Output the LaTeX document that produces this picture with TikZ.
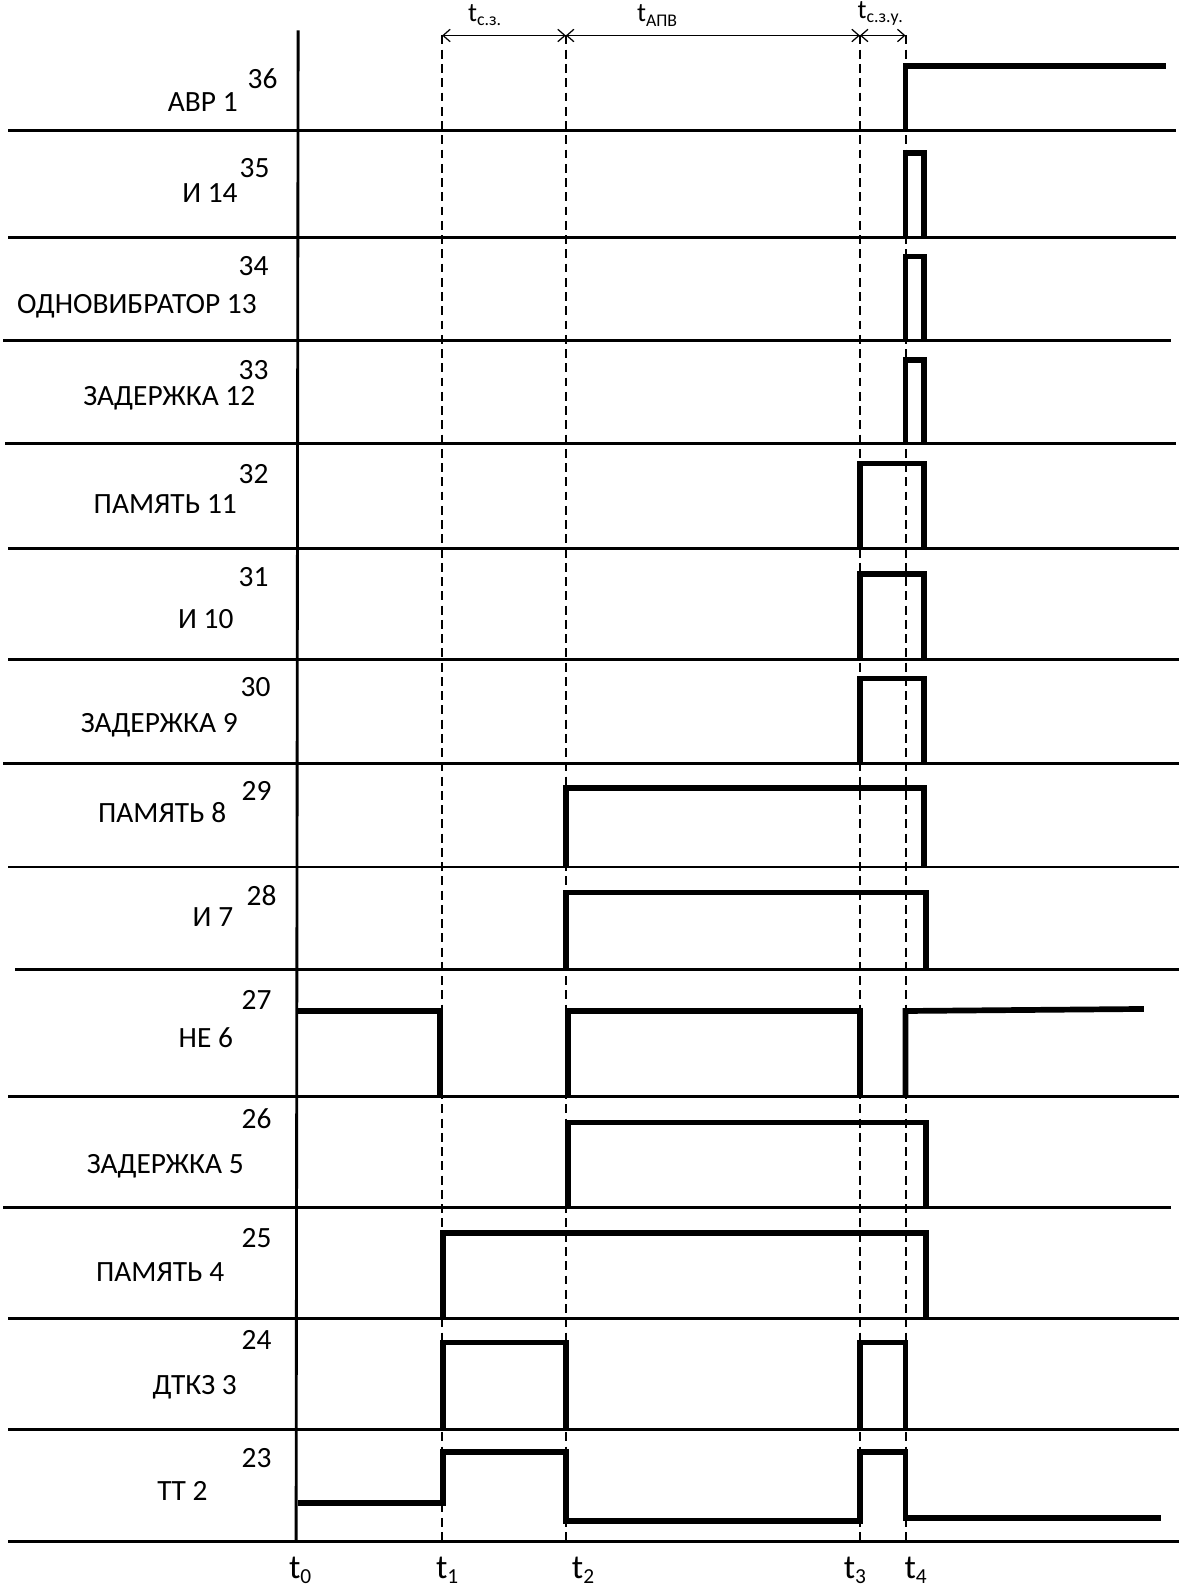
\documentclass[tikz,border=0pt]{standalone}
\usepackage{fontspec}
\setmainfont{Carlito}
\usetikzlibrary{arrows.meta}

\newcommand{\tsub}[2]{t\raisebox{-2.5pt}{\fontsize{#1}{#1}\selectfont #2}}

\begin{document}
\begin{tikzpicture}[x={(0.02cm,0)},y={(0,-0.02cm)},
  grid/.style={line width=1.6pt},
  sig/.style={line width=3.2pt,line join=miter},
  tmark/.style={line width=1.1pt,dash pattern=on 5pt off 3pt},
  dim/.style={{Straight Barb[length=4pt,width=7pt]}-{Straight Barb[length=4pt,width=7pt]},line width=0.7pt},
  lbl/.style={font=\fontsize{16.5}{18}\selectfont,inner sep=0pt,anchor=base},
  tlbl/.style={font=\fontsize{15}{17}\selectfont,inner sep=0pt,anchor=base}]
\useasboundingbox (0,0) rectangle (1163,1568);
% rows and time axis
\foreach \y/\a/\b in {129/8/1160,234/8/1160,336/3/1155,437/5/1160,541/8/1163,650/8/1163,753/3/1163,
  855/8/1163,956/15/1163,1081/8/1163,1191/3/1155,1300/8/1163,1410/8/1163,1520/8/1163}
  {\draw[grid] (\a,\y) -- (\b,\y);}
\draw[grid] (294,30) -- (292,1520);
% moments t1..t4
\foreach \n/\x in {1/436,2/558,3/848,4/893} {
  \coordinate (m\n) at (\x,35);
  \draw[tmark] (m\n) -- (\x,1520);
}
\draw[dim] (m1) -- (m2);
\draw[dim] (m2) -- (m3);
\draw[dim] (m3) -- (m4);
\node[tlbl] (dsz) at (478,21) {\tsub{10}{с.з.}};
\node[tlbl] (dapv) at (648,21.5) {\tsub{10}{АПВ}};
\node[tlbl] (dszu) at (868,18) {\tsub{10}{с.з.у.}};
% signals
\draw[sig] (893,129) -- (893,65) -- (1150,65);
\foreach \a/\b/\hi/\lo in {893/911/151/234,893/911/253/336,893/911/355/437,848/911/457/541,
  848/911/566/650,848/911/669/753,558/911/777/855,558/913/880/956,560/913/1107/1191,
  437/913/1216/1300,437/558/1324/1410,848/893/1324/1410}
  {\draw[sig] (\a,\lo) -- (\a,\hi) -- (\b,\hi) -- (\b,\lo);}
\draw[sig] (292,997) -- (434,997) -- (434,1081);
\draw[sig] (560,1081) -- (560,997) -- (848,997) -- (848,1081);
\draw[sig] (893,1081) -- (893,997) -- (1128,995);
\draw[sig] (294,1482) -- (437,1482) -- (437,1432) -- (558,1432) -- (558,1500) -- (848,1500)
  -- (848,1432) -- (893,1432) -- (893,1497) -- (1145,1497);
% element names
\foreach \nm/\x/\y/\txt in {avr/200/101/АВР 1,i14/207/191/И 14,odn/135/300/ОДНОВИБРАТОР 13,
  zd12/167/391/ЗАДЕРЖКА 12,pm11/163/497/ПАМЯТЬ 11,i10/203/611/И 10,zd9/157/713/ЗАДЕРЖКА 9,
  pm8/160/802/ПАМЯТЬ 8,i7/210/905/И 7,ne6/203/1024/НЕ 6,zd5/163/1148/ЗАДЕРЖКА 5,
  pm4/158/1255/ПАМЯТЬ 4,dtkz/192/1366/ДТКЗ 3,tt2/180/1471/ТТ 2}
  {\node[lbl] (lab\nm) at (\x,\y+9) {\txt};}
% point numbers
\foreach \n/\x/\y in {36/259/78,35/251/166,34/250/263,33/250/365,32/250/468,31/250/569,30/252/678,
  29/253/780,28/258/884,27/253/987,26/253/1104,25/253/1221,24/253/1322,23/253/1438}
  {\node[lbl] (num\n) at (\x,\y+9) {\n};}
% time labels
\foreach \n/\x in {0/296,1/441,2/575,3/843,4/903}
  {\node[font=\fontsize{19}{20}\selectfont,inner sep=0pt,anchor=base] (t\n) at (\x,1557) {\tsub{12}{\n}};}
\end{tikzpicture}
\end{document}
